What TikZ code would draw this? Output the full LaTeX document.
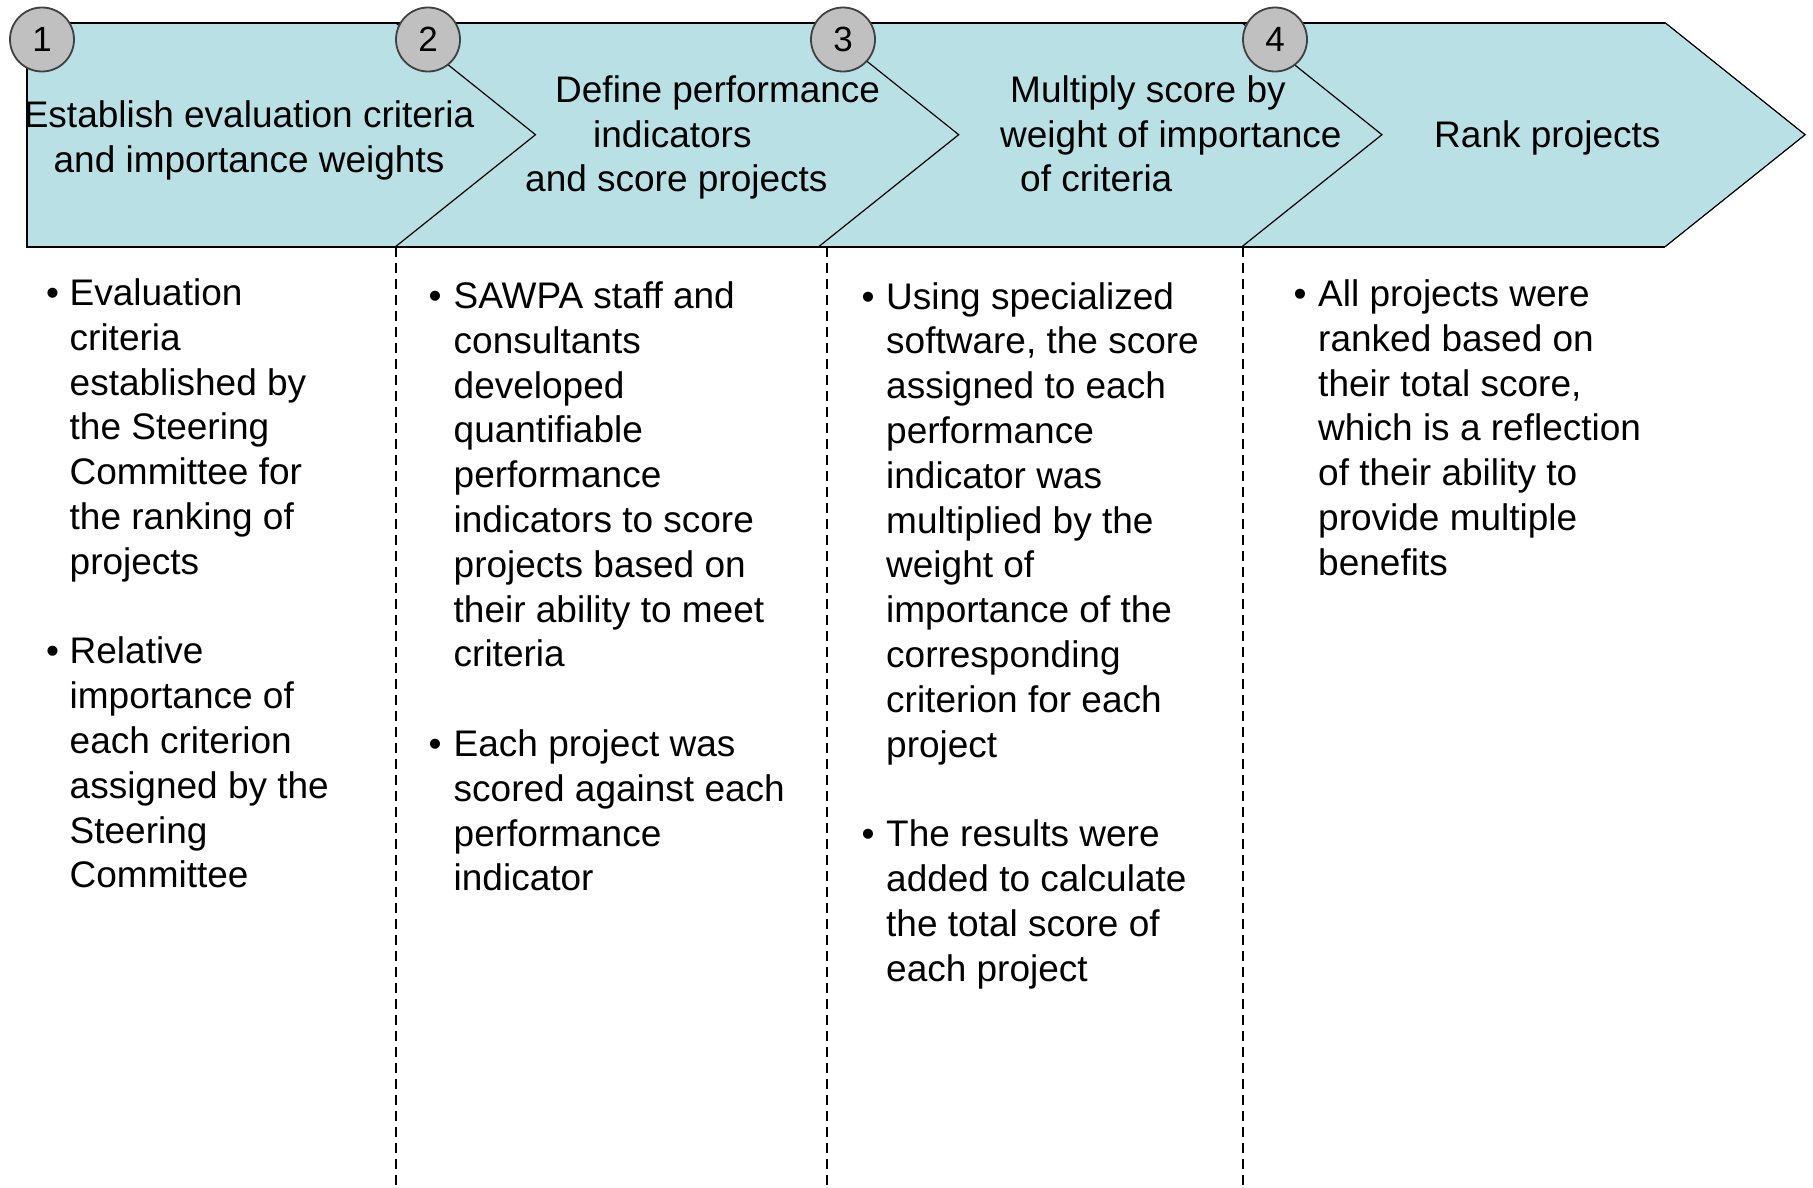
\documentclass[tikz,border=0pt]{standalone}
\usepackage{fontspec}
\setmainfont{Liberation Sans}
\definecolor{stepfill}{RGB}{185,224,228}
\definecolor{numfill}{RGB}{192,192,192}
\definecolor{numline}{RGB}{64,64,64}

\begin{document}
\begin{tikzpicture}[x=1pt,y=-1pt,
    line/.style = {font=\fontsize{37pt}{44.8pt}\selectfont,anchor=base west,inner sep=0pt},
    bul/.style = {font=\fontsize{37pt}{44.8pt}\selectfont,anchor=base,inner sep=0pt},
    num/.style = {circle,draw=numline,fill=numfill,line width=1.8pt,minimum size=64pt,inner sep=0pt,font=\fontsize{35pt}{40pt}\selectfont}]
\useasboundingbox (0,0) rectangle (1813,1188);
% process band
\fill[stepfill] (26.7,22.7) -- (395.5,22.7) -- (535.5,134.7) -- (395.5,246.7) -- (26.7,246.7) -- cycle;
\foreach \x in {395.5,818.7,1241.9} \fill[stepfill] (\x,22.7) -- (\x+423.2,22.7) -- (\x+563.2,134.7) -- (\x+423.2,246.7) -- (\x,246.7) -- (\x+140,134.7) -- cycle;
\foreach \x in {395.5,818.7,1241.9,1665.1} \draw[line width=1.2pt] (\x,22.7) -- (\x+140,134.7) -- (\x,246.7);
\draw[line width=2.2pt] (1665.1,22.7) -- (26.7,22.7) -- (26.7,246.7) -- (1665.1,246.7);
\foreach \x in {396,827,1243} \draw[line width=1.5pt,dash pattern=on 10pt off 6pt] (\x,247) -- (\x,1188);
\foreach \x/\n in {42/1,428/2,843/3,1275/4} \node[num] (n\n) at (\x,39.5) {\n};
% step titles
\node[line,anchor=base] (h1a) at (249,128) {Establish evaluation criteria};
\node[line,anchor=base] (h1b) at (249,172) {and importance weights};
\node[line] (h2a) at (555,103) {Define performance};
\node[line] (h2b) at (593,148) {indicators};
\node[line] (h2c) at (525,192) {and score projects};
\node[line] (h3a) at (1010,103) {Multiply score by};
\node[line] (h3b) at (1000,148) {weight of importance};
\node[line] (h3c) at (1020,192) {of criteria};
\node[line] (h4a) at (1434,148) {Rank projects};
% bullets under each step
\foreach \t [count=\i from 0] in {Evaluation,criteria,established by,the Steering,Committee for,the ranking of,projects} \node[line] (a\i) at (69.5,305.5+\i*44.8) {\t};
\foreach \t [count=\i from 8] in {Relative,importance of,each criterion,assigned by the,Steering,Committee} \node[line] (a\i) at (69.5,305.5+\i*44.8) {\t};
\foreach \t [count=\i from 0] in {SAWPA staff and,consultants,developed,quantifiable,performance,indicators to score,projects based on,their ability to meet,criteria} \node[line] (b\i) at (453.5,308.5+\i*44.8) {\t};
\foreach \t [count=\i from 10] in {Each project was,scored against each,performance,indicator} \node[line] (b\i) at (453.5,308.5+\i*44.8) {\t};
\foreach \t [count=\i from 0] in {Using specialized,{software, the score},assigned to each,performance,indicator was,multiplied by the,weight of,importance of the,corresponding,criterion for each,project} \node[line] (c\i) at (886,309+\i*44.8) {\t};
\foreach \t [count=\i from 12] in {The results were,added to calculate,the total score of,each project} \node[line] (c\i) at (886,309+\i*44.8) {\t};
\foreach \t [count=\i from 0] in {All projects were,ranked based on,{their total score,},which is a reflection,of their ability to,provide multiple,benefits} \node[line] (d\i) at (1318,306.5+\i*44.8) {\t};
\foreach \x/\y/\k in {52.5/305.5/a,52.5/663.9/a,435/308.5/b,435/756.5/b,868/309/c,868/846.6/c,1300/306.5/d} \node[bul] at (\x,\y) {•};
\end{tikzpicture}
\end{document}
